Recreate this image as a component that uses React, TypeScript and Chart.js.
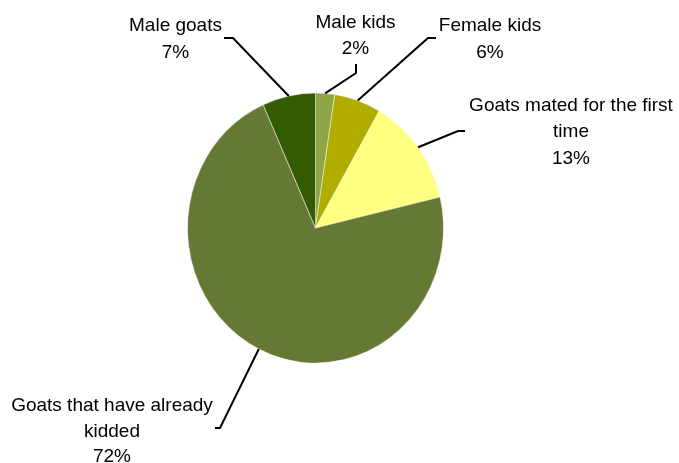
import React, { useEffect, useRef } from "react";
import { Chart, registerables } from "chart.js";

Chart.register(...registerables);

const categories = [
  "Male kids",
  "Female kids",
  "Goats mated for the first time",
  "Goats that have already kidded",
  "Male goats",
];
const values = [2.4, 5.9, 13.0, 72.0, 6.7];
const colors = ["#8DA547", "#B0AD00", "#FFFF80", "#667934", "#335C00"];

// label text lines (wrapped as in the reference)
const labelLines = [
  ["Male kids"],
  ["Female kids"],
  ["Goats mated for the first", "time"],
  ["Goats that have already", "kidded"],
  ["Male goats"],
];

// layout of label blocks: center x, first baseline y, line spacing
const labelLayout = [
  { x: 355.5, y: 27.7, lh: 26.5, elbow: [356, 73], end: [356, 64] },
  { x: 490, y: 31, lh: 26.5, elbow: [428, 38], end: [436, 38] },
  { x: 571, y: 110.5, lh: 26.5, elbow: [458, 131], end: [465, 131] },
  { x: 112, y: 411, lh: 25.5, elbow: [220, 428], end: [215, 428] },
  { x: 175.5, y: 31, lh: 26.5, elbow: [233, 38], end: [224, 38] },
];

const Y_SCALE = 135 / 128;

const ellipsePlugin = {
  id: "ellipse",
  beforeDatasetsDraw(chart: any) {
    const arc = chart.getDatasetMeta(0).data[0];
    if (!arc) return;
    const ctx = chart.ctx;
    ctx.save();
    ctx.translate(arc.x, arc.y);
    ctx.scale(1, Y_SCALE);
    ctx.translate(-arc.x, -arc.y);
  },
  afterDatasetsDraw(chart: any) {
    chart.ctx.restore();
  },
};

const labelPlugin = {
  id: "labels",
  afterDraw(chart: any) {
    const ctx = chart.ctx;
    const meta = chart.getDatasetMeta(0);
    const total = values.reduce((a, b) => a + b, 0);
    ctx.save();
    meta.data.forEach((arc: any, i: number) => {
      const mid = (arc.startAngle + arc.endAngle) / 2;
      const rx = arc.outerRadius;
      const ry = arc.outerRadius * Y_SCALE;
      const sx = arc.x + rx * Math.cos(mid);
      const sy = arc.y + ry * Math.sin(mid);
      const L = labelLayout[i];
      ctx.strokeStyle = "#000";
      ctx.lineWidth = 2;
      ctx.beginPath();
      ctx.moveTo(sx, sy);
      ctx.lineTo(L.elbow[0], L.elbow[1]);
      ctx.lineTo(L.end[0], L.end[1]);
      ctx.stroke();

      ctx.fillStyle = "#000";
      ctx.font = "19px 'Liberation Sans', Arial, sans-serif";
      ctx.textAlign = "center";
      ctx.textBaseline = "alphabetic";
      const lines = [...labelLines[i], Math.round((values[i] / total) * 100) + "%"];
      lines.forEach((t, k) => {
        ctx.fillText(t, L.x, L.y + k * L.lh);
      });
    });
    ctx.restore();
  },
};

export default function App() {
  const ref = useRef<HTMLCanvasElement | null>(null);
  useEffect(() => {
    if (!ref.current) return;
    const chart = new Chart(ref.current, {
      type: "pie",
      data: {
        labels: categories,
        datasets: [
          {
            data: values,
            backgroundColor: colors,
            borderColor: "rgba(255,255,255,0.45)",
            borderWidth: 1,
            clip: false,
          } as any,
        ],
      },
      options: {
        responsive: false,
        animation: false,
        devicePixelRatio: 1,
        layout: { padding: { left: 187, right: 235, top: 99, bottom: 106 } },
        plugins: {
          legend: { display: false },
          tooltip: { enabled: false },
        },
      },
      plugins: [ellipsePlugin, labelPlugin],
    });
    return () => chart.destroy();
  }, []);
  return (
    <div style={{ position: "fixed", left: 0, top: 0, width: 679, height: 463, background: "#fff" }}>
      <canvas ref={ref} width={679} height={463} style={{ display: "block" }} />
    </div>
  );
}
